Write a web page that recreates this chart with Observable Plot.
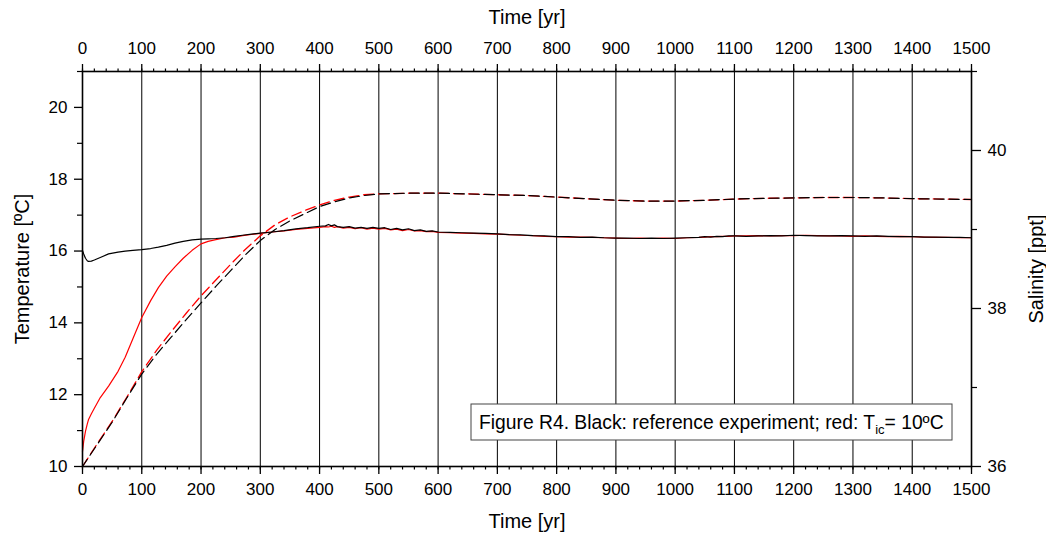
<!DOCTYPE html>
<html>
<head>
<meta charset="utf-8">
<script src="https://cdn.jsdelivr.net/npm/d3@7"></script>
<script src="https://cdn.jsdelivr.net/npm/@observablehq/plot@0.6"></script>
<style>
  html, body { margin: 0; padding: 0; background: #fff; }
  #chart { width: 1046px; height: 535px; }
</style>
</head>
<body>
<div id="chart"></div>
<script>
// ---------- data ----------
const solidYears = [0,2,5,8,10,15,20,30,44,60,72,85,100,115,128,142,156,170,185,200,212,225,241,256,270,285,300,320,340,360,380,400,410,415,420,425,430,440,450,460,470,480,490,500,510,520,530,540,550,560,570,580,590,600,620,640,660,680,700,720,740,760,780,800,820,840,860,880,900,920,940,960,980,1000,1020,1040,1050,1060,1070,1080,1090,1100,1120,1140,1160,1180,1200,1220,1240,1260,1280,1300,1320,1340,1360,1380,1400,1420,1440,1460,1480,1500];
// Temperature, reference experiment (black solid)
const tempRef = [16.02,15.92,15.80,15.73,15.71,15.72,15.75,15.82,15.92,15.97,16.00,16.02,16.04,16.07,16.11,16.16,16.22,16.27,16.31,16.33,16.34,16.35,16.37,16.41,16.44,16.47,16.50,16.53,16.57,16.62,16.65,16.69,16.70,16.74,16.70,16.73,16.68,16.66,16.68,16.64,16.66,16.63,16.66,16.63,16.65,16.60,16.63,16.59,16.62,16.57,16.59,16.55,16.56,16.53,16.52,16.51,16.50,16.49,16.48,16.46,16.45,16.43,16.42,16.40,16.40,16.38,16.39,16.37,16.36,16.36,16.35,16.36,16.35,16.36,16.37,16.38,16.40,16.39,16.41,16.40,16.42,16.42,16.41,16.42,16.43,16.42,16.44,16.43,16.42,16.42,16.43,16.42,16.41,16.42,16.41,16.40,16.40,16.39,16.39,16.38,16.38,16.37];
// Temperature, T_ic = 10 ºC (red solid)
const tempTic = [10.42,10.70,10.98,11.18,11.30,11.47,11.62,11.92,12.24,12.65,13.04,13.56,14.15,14.62,14.98,15.30,15.56,15.80,16.02,16.20,16.27,16.32,16.37,16.39,16.43,16.46,16.49,16.53,16.56,16.60,16.63,16.66,16.68,16.67,16.69,16.66,16.68,16.64,16.66,16.62,16.65,16.61,16.64,16.61,16.63,16.59,16.61,16.57,16.60,16.56,16.57,16.54,16.55,16.52,16.51,16.50,16.49,16.48,16.47,16.46,16.44,16.43,16.41,16.40,16.39,16.39,16.38,16.37,16.36,16.35,16.36,16.35,16.36,16.35,16.37,16.38,16.39,16.40,16.40,16.41,16.41,16.42,16.42,16.43,16.42,16.43,16.43,16.44,16.43,16.42,16.42,16.41,16.42,16.41,16.40,16.41,16.40,16.39,16.38,16.38,16.37,16.37];

const dashYears = [0,25,50,75,100,125,150,175,200,225,250,275,300,325,350,375,400,425,450,475,500,550,600,650,700,750,800,850,900,950,1000,1050,1100,1150,1200,1250,1300,1350,1400,1450,1500];
// Salinity, reference experiment (black dashed)
const salRef = [36.00,36.28,36.56,36.87,37.17,37.42,37.64,37.86,38.07,38.28,38.48,38.68,38.86,39.00,39.11,39.20,39.29,39.35,39.40,39.43,39.45,39.46,39.46,39.45,39.44,39.43,39.41,39.39,39.37,39.36,39.36,39.37,39.385,39.395,39.40,39.405,39.405,39.40,39.39,39.385,39.38];
// Salinity, T_ic = 10 ºC (red dashed)
const salTic = [36.00,36.29,36.57,36.88,37.20,37.47,37.71,37.94,38.16,38.36,38.56,38.75,38.92,39.06,39.16,39.24,39.31,39.37,39.41,39.44,39.45,39.46,39.46,39.45,39.44,39.43,39.41,39.39,39.37,39.36,39.36,39.37,39.385,39.395,39.40,39.405,39.405,39.40,39.39,39.385,39.38];

const timeTicks = d3.range(0, 1501, 100);
const timeMinor = d3.range(0, 1501, 20);
const tempTicks = [10, 12, 14, 16, 18, 20];
const tempMinor = [11, 13, 15, 17, 19, 21];
const salTicks = [36, 38, 40];
const salMinor = [37, 39, 41];

// salinity axis (right) shares the vertical scale: 36–41 ppt spans 10–21 ºC
const salToT = s => 10 + (s - 36) * 11 / 5;
const tToSal = t => 36 + (t - 10) * 5 / 11;

const solidRef = solidYears.map((t, i) => ({t, v: tempRef[i]}));
const solidTic = solidYears.map((t, i) => ({t, v: tempTic[i]}));
const dashRef = dashYears.map((t, i) => ({t, s: salRef[i]}));
const dashTic = dashYears.map((t, i) => ({t, s: salTic[i]}));

const FONT = "Liberation Sans, Arial, Helvetica, sans-serif";
const blank = () => "";
const plain = d => String(d);
const TITLE = 20;

const chart = Plot.plot({
  width: 1046,
  height: 535,
  marginLeft: 82,
  marginRight: 75,
  marginTop: 71,
  marginBottom: 69,
  style: {fontFamily: FONT, fontSize: "17px", color: "black", background: "white"},
  x: {domain: [0, 1500]},
  y: {domain: [10, 21]},
  marks: [
    Plot.gridX(timeTicks, {stroke: "black", strokeOpacity: 1, strokeWidth: 1}),
    // top axis
    Plot.axisX({anchor: "top", ticks: timeTicks, tickFormat: plain, tickSize: 8, tickPadding: 10, strokeWidth: 1.3, label: null, fill: "black"}),
    Plot.axisX({anchor: "top", ticks: timeMinor, tickSize: 3.5, tickFormat: blank, strokeWidth: 1.2, label: null}),
    // bottom axis
    Plot.axisX({anchor: "bottom", ticks: timeTicks, tickFormat: plain, tickSize: 8, tickPadding: 8, strokeWidth: 1.3, label: null, fill: "black"}),
    Plot.axisX({anchor: "bottom", ticks: timeMinor, tickSize: 3.5, tickFormat: blank, strokeWidth: 1.2, label: null}),
    // left axis
    Plot.axisY({anchor: "left", ticks: tempTicks, tickFormat: plain, tickSize: 8, tickPadding: 7, strokeWidth: 1.3, label: null, fill: "black"}),
    Plot.axisY({anchor: "left", ticks: tempMinor, tickSize: 5, tickFormat: blank, strokeWidth: 1.2, label: null}),
    // right axis (salinity)
    Plot.axisY({anchor: "right", ticks: salTicks.map(salToT), tickFormat: d => String(Math.round(tToSal(d))), tickSize: 9, tickPadding: 7, strokeWidth: 1.3, label: null, fill: "black"}),
    Plot.axisY({anchor: "right", ticks: salMinor.map(salToT), tickSize: 5, tickFormat: blank, strokeWidth: 1.2, label: null}),
    // axis titles
    Plot.text(["Time [yr]"], {frameAnchor: "top", textAnchor: "middle", lineAnchor: "middle", dy: -54, fontSize: TITLE, fill: "black"}),
    Plot.text(["Time [yr]"], {frameAnchor: "bottom", textAnchor: "middle", lineAnchor: "middle", dy: 55, fontSize: TITLE, fill: "black"}),
    Plot.text(["Temperature [ºC]"], {frameAnchor: "left", textAnchor: "middle", lineAnchor: "middle", rotate: -90, dx: -60, fontSize: TITLE, fill: "black"}),
    Plot.text(["Salinity [ppt]"], {frameAnchor: "right", textAnchor: "middle", lineAnchor: "middle", rotate: -90, dx: 65, fontSize: TITLE, fill: "black"}),
    // curves
    Plot.line(solidTic, {x: "t", y: "v", stroke: "#ff0000", strokeWidth: 1.2}),
    Plot.line(solidRef, {x: "t", y: "v", stroke: "black", strokeWidth: 1.2}),
    Plot.line(dashTic, {x: "t", y: d => salToT(d.s), stroke: "#ff0000", strokeWidth: 1.3, strokeDasharray: "10,5"}),
    Plot.line(dashRef, {x: "t", y: d => salToT(d.s), stroke: "black", strokeWidth: 1.2, strokeDasharray: "10,5", strokeDashoffset: 1.5}),
    Plot.frame({stroke: "black", strokeWidth: 1.6})
  ]
});

document.getElementById("chart").appendChild(chart);

// caption box inside the plot
const svg = d3.select(chart);
const g = svg.append("g").attr("font-family", FONT).attr("font-size", 19.3).attr("fill", "black").attr("text-anchor", "start");
g.append("rect").attr("x", 471).attr("y", 404).attr("width", 481).attr("height", 36)
  .attr("fill", "white").attr("stroke", "#444").attr("stroke-width", 1);
const txt = g.append("text").attr("x", 479).attr("y", 428.5).attr("text-anchor", "start");
txt.append("tspan").text("Figure R4. Black: reference experiment; red: T");
txt.append("tspan").attr("font-size", 13).attr("dy", 5).text("ic");
txt.append("tspan").attr("dy", -5).text("= 10ºC");
</script>
</body>
</html>
